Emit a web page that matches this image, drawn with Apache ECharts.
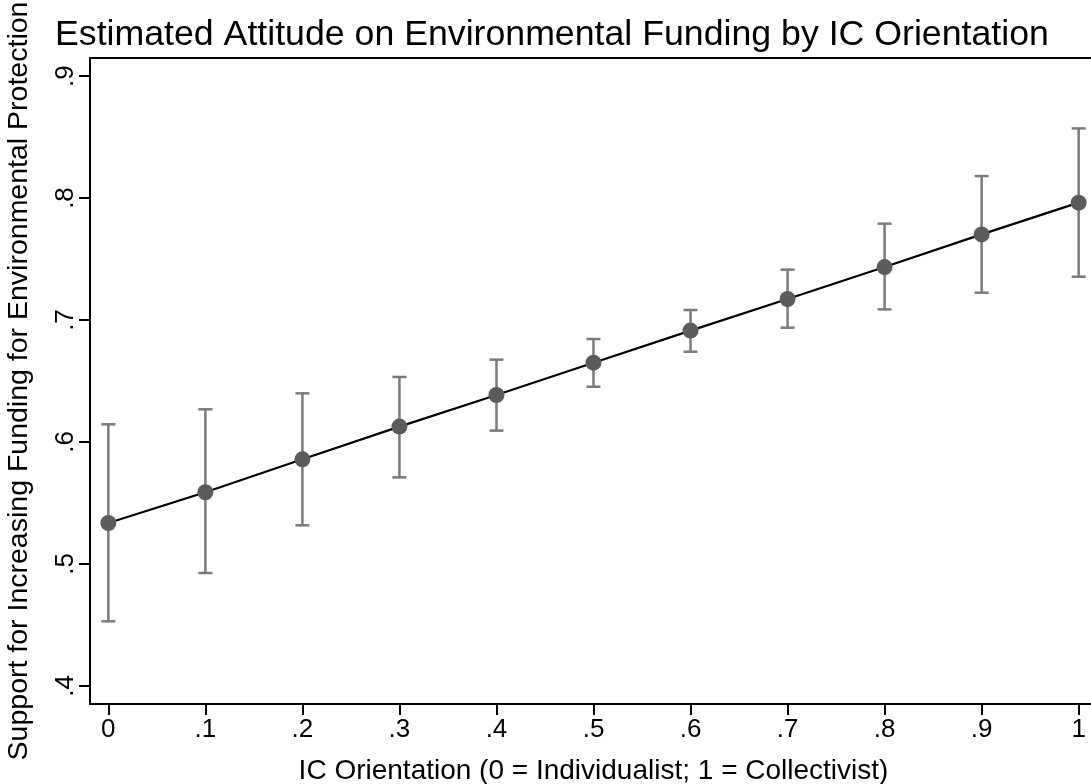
<!DOCTYPE html>
<html>
<head>
<meta charset="utf-8">
<script src="https://cdn.jsdelivr.net/npm/echarts@6/dist/echarts.min.js"></script>
<style>
html,body{margin:0;padding:0;background:#fff;}
#chart{width:1091px;height:784px;}
</style>
</head>
<body>
<div id="chart"></div>
<script>
// IC Orientation values
const xValues = [0, 0.1, 0.2, 0.3, 0.4, 0.5, 0.6, 0.7, 0.8, 0.9, 1.0];
// Estimated support (point estimates)
const meanValues = [0.5336, 0.5588, 0.5858, 0.6126, 0.6385, 0.6650, 0.6913, 0.7172, 0.7434, 0.7702, 0.7962];
// 95% CI lower bounds
const lowerValues = [0.4530, 0.4926, 0.5317, 0.5710, 0.6093, 0.6453, 0.6740, 0.6937, 0.7087, 0.7224, 0.7355];
// 95% CI upper bounds
const upperValues = [0.6145, 0.6268, 0.6399, 0.6533, 0.6675, 0.6844, 0.7082, 0.7413, 0.7790, 0.8180, 0.8571];
// tick labels
const xTicks = [0, 0.1, 0.2, 0.3, 0.4, 0.5, 0.6, 0.7, 0.8, 0.9, 1];
const xTickLabels = ['0', '.1', '.2', '.3', '.4', '.5', '.6', '.7', '.8', '.9', '1'];
const yTicks = [0.4, 0.5, 0.6, 0.7, 0.8, 0.9];
const yTickLabels = ['.4', '.5', '.6', '.7', '.8', '.9'];

const FONT = '"Liberation Sans", Arial, Helvetica, sans-serif';

function labelFor(ticks, labels) {
  return function (v) {
    for (let i = 0; i < ticks.length; i++) {
      if (Math.abs(ticks[i] - v) < 1e-6) return labels[i];
    }
    return '';
  };
}

const chart = echarts.init(document.getElementById('chart'), null, { renderer: 'canvas' });

const lineData = xValues.map((x, i) => [x, meanValues[i]]);
const errData = xValues.map((x, i) => [x, lowerValues[i], upperValues[i]]);

const option = {
  animation: false,
  backgroundColor: '#ffffff',
  title: {
    text: 'Estimated Attitude on Environmental Funding by IC Orientation',
    left: 50,
    top: 12,
    textStyle: { fontFamily: FONT, fontSize: 35.7, fontWeight: 'normal', color: '#000' }
  },
  grid: { left: 90, top: 58, width: 1007, height: 646, containLabel: false, outerBoundsMode: 'none' },
  xAxis: [{
    type: 'value',
    min: -0.0189,
    max: 1.0189,
    position: 'bottom',
    name: 'IC Orientation (0 = Individualist; 1 = Collectivist)',
    nameLocation: 'middle',
    nameGap: 53,
    nameTextStyle: { fontFamily: FONT, fontSize: 28, color: '#000' },
    axisLine: { show: true, onZero: false, lineStyle: { color: '#000', width: 2 } },
    axisTick: { show: true, length: 11, customValues: xTicks, lineStyle: { color: '#000', width: 2 } },
    axisLabel: { show: true, customValues: xTicks, margin: 13, fontFamily: FONT, fontSize: 26, color: '#000',
      formatter: labelFor(xTicks, xTickLabels) },
    splitLine: { show: false }
  }, {
    type: 'value',
    min: -0.0189,
    max: 1.0189,
    position: 'top',
    axisLine: { show: true, onZero: false, lineStyle: { color: '#000', width: 2 } },
    axisTick: { show: false },
    axisLabel: { show: false },
    splitLine: { show: false }
  }],
  yAxis: {
    type: 'value',
    min: 0.3852,
    max: 0.9148,
    name: 'Support for Increasing Funding for Environmental Protection',
    nameLocation: 'middle',
    nameRotate: 90,
    nameGap: 56,
    nameTextStyle: { fontFamily: FONT, fontSize: 28.5, color: '#000' },
    axisLine: { show: true, onZero: false, lineStyle: { color: '#000', width: 2 } },
    axisTick: { show: true, length: 11, customValues: yTicks, lineStyle: { color: '#000', width: 2 } },
    axisLabel: { show: true, customValues: yTicks, rotate: 90, margin: 11, fontFamily: FONT, fontSize: 26, color: '#000',
      formatter: labelFor(yTicks, yTickLabels) },
    splitLine: { show: false }
  },
  series: [{
    type: 'custom',
    name: 'ci',
    data: errData,
    z: 2,
    clip: false,
    renderItem: function (params, api) {
      const x = api.value(0);
      const lo = api.coord([x, api.value(1)]);
      const hi = api.coord([x, api.value(2)]);
      const half = 7;
      const style = { stroke: '#7a7a7a', lineWidth: 2.5, fill: null };
      return {
        type: 'group',
        children: [
          { type: 'line', shape: { x1: lo[0], y1: lo[1], x2: hi[0], y2: hi[1] }, style: style },
          { type: 'line', shape: { x1: lo[0] - half, y1: lo[1], x2: lo[0] + half, y2: lo[1] }, style: style },
          { type: 'line', shape: { x1: hi[0] - half, y1: hi[1], x2: hi[0] + half, y2: hi[1] }, style: style }
        ]
      };
    }
  }, {
    type: 'line',
    name: 'estimate',
    data: lineData,
    z: 3,
    symbol: 'circle',
    symbolSize: 16,
    showAllSymbol: true,
    itemStyle: { color: '#5b5b5b', borderWidth: 0 },
    lineStyle: { color: '#000', width: 2.2 }
  }]
};

chart.setOption(option);
</script>
</body>
</html>
